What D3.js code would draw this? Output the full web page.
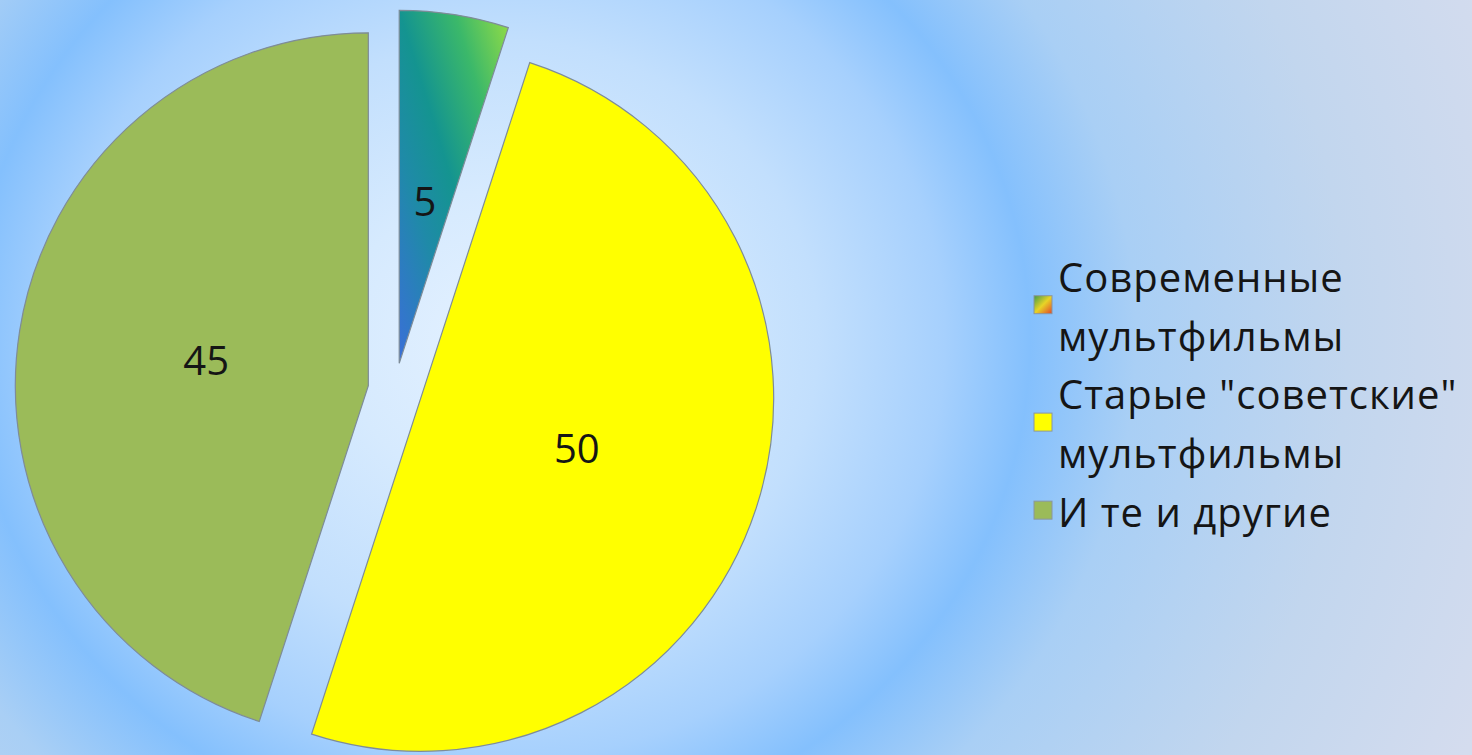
<!DOCTYPE html>
<html>
<head>
<meta charset="utf-8">
<script src="https://cdn.jsdelivr.net/npm/d3@7"></script>
<style>
  html, body { margin: 0; padding: 0; overflow: hidden; }
</style>
</head>
<body>
<div id="chart"></div>
<script>
const categories = [
  "Современные мультфильмы",
  "Старые \"советские\" мультфильмы",
  "И те и другие",
];
const values = [5, 50, 45];
// legend lines as they wrap in the original
const legendLines = [
  ["Современные", "мультфильмы"],
  ["Старые \"советские\"", "мультфильмы"],
  ["И те и другие"],
];
const colors = ["url(#grad5)", "#ffff00", "#9bbb59"];
const legendColors = ["url(#gradLegend)", "#ffff00", "#9bbb59"];

const width = 1472,
  height = 755,
  cx = 395,
  cy = 390,
  radius = 353,
  explode = 27;

const svg = d3
  .select("#chart")
  .append("svg")
  .attr("width", width)
  .attr("height", height);

const defs = svg.append("defs");

// background: radial gradient, light centre, blue ring, grey-blue corners
const bg = defs
  .append("radialGradient")
  .attr("id", "bgGrad")
  .attr("gradientUnits", "userSpaceOnUse")
  .attr("cx", 0)
  .attr("cy", 0)
  .attr("r", 1)
  .attr("gradientTransform", "translate(500,340) scale(1060,1000)");
[
  [0, "#e4f1ff"],
  [0.15, "#d6eafe"],
  [0.3, "#c2dffd"],
  [0.42, "#a6d0fd"],
  [0.5, "#84c0fd"],
  [0.6, "#a9cff5"],
  [0.8, "#c2d6ee"],
  [1, "#d4dcee"],
].forEach(([o, c]) => bg.append("stop").attr("offset", o).attr("stop-color", c));

const g5 = defs
  .append("linearGradient")
  .attr("id", "grad5")
  .attr("x1", 0)
  .attr("y1", 1)
  .attr("x2", 1)
  .attr("y2", 0);
[
  [0, "#3a6fd8"],
  [0.3, "#1f8aa8"],
  [0.5, "#149490"],
  [0.75, "#3bb86a"],
  [1, "#95dd45"],
].forEach(([o, c]) => g5.append("stop").attr("offset", o).attr("stop-color", c));

const gl = defs
  .append("linearGradient")
  .attr("id", "gradLegend")
  .attr("x1", 0)
  .attr("y1", 0)
  .attr("x2", 1)
  .attr("y2", 1);
[
  [0, "#3f9a4a"],
  [0.5, "#e8d426"],
  [1, "#e0452a"],
].forEach(([o, c]) => gl.append("stop").attr("offset", o).attr("stop-color", c));

svg
  .append("rect")
  .attr("width", width)
  .attr("height", height)
  .attr("fill", "url(#bgGrad)");

const pie = d3.pie().sort(null).value((d) => d)(values);

const arc = d3.arc().innerRadius(0).outerRadius(radius);
const labelArc = d3.arc().innerRadius(0).outerRadius(radius * 0.93);

const pieG = svg.append("g").attr("transform", `translate(${cx},${cy})`);

const slices = pieG
  .selectAll("g.slice")
  .data(pie)
  .join("g")
  .attr("class", "slice")
  .attr("transform", (d) => {
    const a = (d.startAngle + d.endAngle) / 2;
    return `translate(${explode * Math.sin(a)},${-explode * Math.cos(a)})`;
  });

slices
  .append("path")
  .attr("d", arc)
  .attr("fill", (d, i) => colors[i])
  .style("stroke", "#7e8c98")
  .style("stroke-width", 1.2);

slices
  .append("text")
  .attr("transform", (d) => `translate(${labelArc.centroid(d)})`)
  .attr("text-anchor", "middle")
  .attr("dy", "0.36em")
  .style("font-family", "Open Sans, sans-serif")
  .style("font-size", "40px")
  .style("fill", "#151515")
  .text((d) => d.data);

// legend
const legendX = 1058,
  firstBaseline = 292,
  lineH = 58.7;

const legend = svg.append("g").attr("class", "legend");
let lineIdx = 0;
legendLines.forEach((lines, i) => {
  const b0 = firstBaseline + lineIdx * lineH;
  const mid = b0 - 46 + (lines.length * lineH) / 2;
  const item = legend.append("g").attr("class", "legend-item");
  item
    .append("rect")
    .attr("x", 1034)
    .attr("y", mid - 9)
    .attr("width", 18)
    .attr("height", 18)
    .attr("fill", legendColors[i])
    .style("stroke", "#8a96a0")
    .style("stroke-width", 1);
  item
    .selectAll("text")
    .data(lines)
    .join("text")
    .attr("x", legendX)
    .attr("y", (d, k) => b0 + k * lineH)
    .style("font-family", "Open Sans, sans-serif")
    .style("font-size", "40px")
    .style("letter-spacing", "1px")
    .style("fill", "#151515")
    .text((d) => d);
  lineIdx += lines.length;
});
</script>
</body>
</html>
